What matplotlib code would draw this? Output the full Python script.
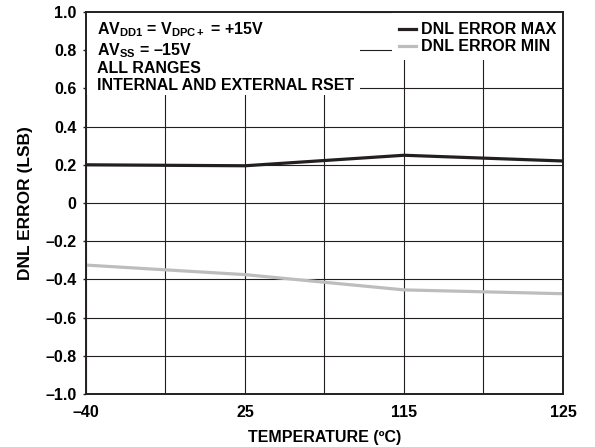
import matplotlib
matplotlib.use('Agg')
import matplotlib.pyplot as plt
from matplotlib.patches import Rectangle

plt.rcParams['font.family'] = 'Liberation Sans'
plt.rcParams['font.weight'] = 'bold'
plt.rcParams['axes.labelweight'] = 'bold'
plt.rcParams['font.size'] = 11.5
plt.rcParams['mathtext.fontset'] = 'custom'
plt.rcParams['mathtext.rm'] = 'Liberation Sans:bold'
plt.rcParams['mathtext.it'] = 'Liberation Sans:bold'
plt.rcParams['mathtext.bf'] = 'Liberation Sans:bold'

# data
temps = ['\u201340', '25', '115', '125']
temp_pos = [0, 2, 4, 6]
dnl_max = [0.20, 0.195, 0.25, 0.22]
dnl_min = [-0.325, -0.375, -0.455, -0.475]
yticks = [1.0, 0.8, 0.6, 0.4, 0.2, 0, -0.2, -0.4, -0.6, -0.8, -1.0]

def ylab(v):
    if v == 0:
        return '0'
    s = '%.1f' % abs(v)
    return ('\u2013' + s) if v < 0 else s

fig = plt.figure(figsize=(5.95, 4.47), dpi=100)
ax = fig.add_axes([0.1445, 0.1186, 0.8017, 0.8545])

ax.plot(temp_pos, dnl_max, color='#231f20', lw=2.3, label='DNL ERROR MAX', zorder=2)
ax.plot(temp_pos, dnl_min, color='#bdbdbd', lw=2.3, label='DNL ERROR MIN', zorder=2)

ax.set_xlim(0, 6)
ax.set_ylim(-1.0, 1.0)
ax.set_xticks(range(7))
ax.set_xticklabels(['' if i not in temp_pos else temps[temp_pos.index(i)] for i in range(7)])
ax.set_yticks(yticks)
ax.set_yticklabels([ylab(v) for v in yticks])
ax.tick_params(axis='y', length=2, width=1, color='#231f20', pad=5)
ax.tick_params(axis='x', length=0, pad=8)
ax.grid(True, color='#231f20', lw=0.8)
for s in ax.spines.values():
    s.set_linewidth(1.4)
    s.set_color('#231f20')

ax.set_xlabel('TEMPERATURE (\u00baC)', labelpad=7)
ax.set_ylabel('DNL ERROR (LSB)', labelpad=9, fontsize=12.5)

# white panels behind the note and the legend (hide the grid there)
ax.add_patch(Rectangle((0, 0.783), 0.574, 0.217, transform=ax.transAxes,
                       facecolor='white', edgecolor='none', zorder=1.8))
ax.add_patch(Rectangle((0.642, 0.874), 0.358, 0.126, transform=ax.transAxes,
                       facecolor='white', edgecolor='none', zorder=1.8))

note = ('AV$_{DD1}$ = V$_{DPC+}$ = +15V\n'
        'AV$_{SS}$ = \u201315V\n'
        'ALL RANGES\n'
        'INTERNAL AND EXTERNAL RSET')
ax.text(0.023, 0.979, note, transform=ax.transAxes, va='top', ha='left',
        linespacing=1.15, zorder=3)

leg = ax.legend(loc='upper right', bbox_to_anchor=(0.986, 0.973),
                frameon=False, handlelength=1.05, handletextpad=0.3,
                labelspacing=0.12, borderpad=0, borderaxespad=0)

fig.savefig('out.png', dpi=100)
